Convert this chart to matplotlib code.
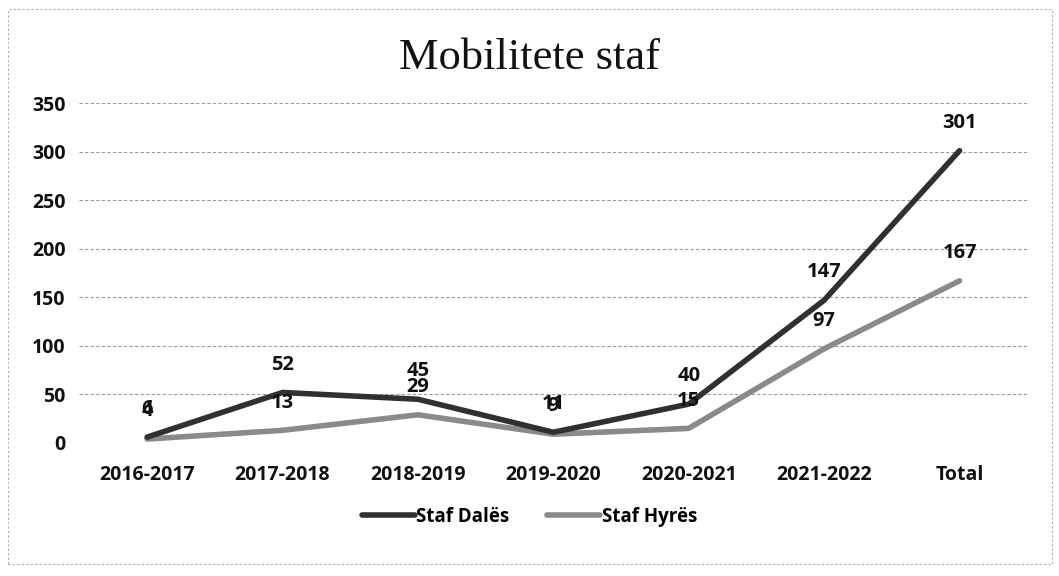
import matplotlib
matplotlib.use("Agg")
import matplotlib.pyplot as plt
from matplotlib.patches import Rectangle

categories = ["2016-2017", "2017-2018", "2018-2019", "2019-2020", "2020-2021", "2021-2022", "Total"]
staf_dales = [6, 52, 45, 11, 40, 147, 301]
staf_hyres = [4, 13, 29, 9, 15, 97, 167]
yticks = [0, 50, 100, 150, 200, 250, 300, 350]

FONT = ["Open Sans", "DejaVu Sans"]

fig = plt.figure(figsize=(10.59, 5.76), dpi=100)
ax = fig.add_axes([0.075, 0.231, 0.895, 0.59])

x = list(range(len(categories)))
ax.plot(x, staf_dales, color="#303030", lw=4, label="Staf Dalës", solid_capstyle="round", zorder=3)
ax.plot(x, staf_hyres, color="#8a8a8a", lw=4, label="Staf Hyrës", solid_capstyle="round", zorder=2)

lab_font = dict(family=FONT, fontweight="bold", fontsize=14.5, color="#111111")
for xi, v in zip(x, staf_dales):
    ax.annotate(str(v), (xi, v), xytext=(0, 20), textcoords="offset points", ha="center", va="center", **lab_font)
for xi, v in zip(x, staf_hyres):
    ax.annotate(str(v), (xi, v), xytext=(0, 20), textcoords="offset points", ha="center", va="center", **lab_font)

ax.set_xlim(-0.5, len(categories) - 0.5)
ax.set_ylim(0, 350)
ax.set_yticks(yticks)
ax.set_xticks(x)
ax.set_xticklabels(categories)
for s in ax.spines.values():
    s.set_visible(False)
ax.grid(axis="y", color="#9a9a9a", lw=0.8, linestyle=(0, (3, 2)))
ax.set_axisbelow(True)
ax.tick_params(length=0, pad=10, axis="y")
ax.tick_params(length=0, pad=16, axis="x")
for t in ax.get_yticklabels() + ax.get_xticklabels():
    t.set_fontfamily(FONT)
    t.set_fontweight("bold")
    t.set_fontsize(14)
    t.set_color("#111111")

fig.text(0.5, 0.90, "Mobilitete staf", ha="center", va="center",
         family=["Liberation Serif", "DejaVu Serif"], fontsize=32, color="#111111")

leg = fig.legend(loc="center", bbox_to_anchor=(0.5, 0.103), ncol=2, frameon=False,
                 prop=dict(family=FONT, weight="bold", size=13.5),
                 handlelength=2.8, handletextpad=0.1, columnspacing=2.0)

fig.patches.append(Rectangle((0.008, 0.02), 0.985, 0.965, transform=fig.transFigure,
                             fill=False, edgecolor="#b0b0b0", lw=0.8, linestyle=(0, (2, 2))))

fig.savefig("out.png", dpi=100)
